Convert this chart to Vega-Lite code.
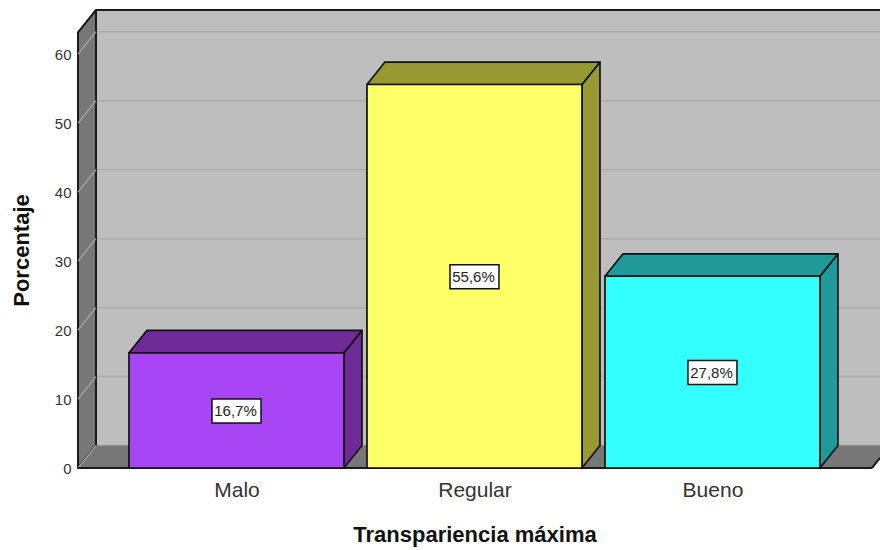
{"$schema":"https://vega.github.io/schema/vega-lite/v6.json","width":802,"height":458,"autosize":{"type":"none"},"padding":{"left":78,"top":10,"right":0,"bottom":82},"background":"white","config":{"view":{"stroke":null},"font":"Liberation Sans"},
"resolve":{"axis":{"x":"independent","y":"independent"}},
"params":[{"name":"x0","value":0.334},{"name":"dx","value":0.0756},{"name":"dy","value":3.25},{"name":"fr","value":63.15},{"name":"fe","value":3.67},{"name":"xend","value":3.704},{"name":"hw","value":0.4517}],
"datasets":{"bars":[{"cat":"Malo","value":16.7,"label":"16,7%"},{"cat":"Regular","value":55.6,"label":"55,6%"},{"cat":"Bueno","value":27.8,"label":"27,8%"}],"ticks":[{"t":0},{"t":10},{"t":20},{"t":30},{"t":40},{"t":50},{"t":60}],"one":[{"k":"frame"}],"two":[{"v":0},{"v":1}],"four":[{"v":0},{"v":1},{"v":2},{"v":3}]},
"layer":[
{"data":{"name":"one"},"transform":[{"calculate":"x0+dx","as":"a"},{"calculate":"xend","as":"b"},{"calculate":"dy","as":"c"},{"calculate":"fr+dy","as":"d"}],
 "mark":{"type":"rect","fill":"#BEBEBE","stroke":null},
 "encoding":{"x":{"field":"a","type":"quantitative","scale":{"domain":[0.334,3.704],"nice":false,"zero":false},"title":"Transpariencia máxima","axis":{"values":[1,2,3],"labelExpr":"datum.value==1?'Malo':datum.value==2?'Regular':'Bueno'","grid":false,"domain":false,"ticks":false,"labelFontSize":21,"labelColor":"#333","labelPadding":11,"labelFlush":false,"labelOverlap":false,"titleFontSize":22,"titleFontWeight":"bold","titleColor":"#111","titlePadding":24,"titleX":396.5}},"x2":{"field":"b"},
 "y":{"field":"c","type":"quantitative","scale":{"domain":[0,66.4],"nice":false,"zero":false},"title":"Porcentaje","axis":{"values":[0,10,20,30,40,50,60],"grid":false,"domain":false,"ticks":false,"labelFontSize":15,"labelColor":"#333","labelPadding":7,"titleFontSize":22,"titleFontWeight":"bold","titleColor":"#111","titlePadding":21,"titleY":240}},"y2":{"field":"d"}}},
{"data":{"name":"ticks"},"transform":[{"calculate":"x0+dx","as":"a"},{"calculate":"xend","as":"b"},{"calculate":"datum.t+dy","as":"c"}],
 "mark":{"type":"rule","stroke":"#ABABAB","strokeWidth":1.5},
 "encoding":{"x":{"field":"a","type":"quantitative","axis":null,"scale":{"domain":[0.334,3.704],"nice":false,"zero":false}},"x2":{"field":"b"},"y":{"field":"c","type":"quantitative","axis":null,"scale":{"domain":[0,66.4],"nice":false,"zero":false}}}},
{"data":{"name":"two"},"transform":[{"calculate":"datum.v==0?x0:x0+dx","as":"x"},{"calculate":"datum.v==0?fr:fr+dy","as":"yt"},{"calculate":"datum.v==0?0:dy","as":"yb"}],
 "mark":{"type":"area","fill":"#777777","stroke":"#1a1a1a","strokeWidth":2,"strokeJoin":"round"},
 "encoding":{"x":{"field":"x","type":"quantitative","axis":null,"scale":{"domain":[0.334,3.704],"nice":false,"zero":false}},"y":{"field":"yt","type":"quantitative","axis":null,"scale":{"domain":[0,66.4],"nice":false,"zero":false}},"y2":{"field":"yb"}}},
{"data":{"name":"four"},"transform":[{"calculate":"datum.v==0?x0:datum.v==1?x0+dx:datum.v==2?fe:fe+dx","as":"x"},{"calculate":"datum.v==0?0:dy","as":"yt"},{"calculate":"datum.v==3?dy:0","as":"yb"}],
 "mark":{"type":"area","fill":"#777777","clip":true},
 "encoding":{"x":{"field":"x","type":"quantitative","axis":null,"scale":{"domain":[0.334,3.704],"nice":false,"zero":false}},"y":{"field":"yt","type":"quantitative","axis":null,"scale":{"domain":[0,66.4],"nice":false,"zero":false}},"y2":{"field":"yb"}}},
{"data":{"name":"ticks"},"transform":[{"calculate":"x0","as":"a"},{"calculate":"x0+dx","as":"b"},{"calculate":"datum.t+dy","as":"c"}],
 "mark":{"type":"rule","stroke":"#A8A8A8","strokeWidth":1.2},
 "encoding":{"x":{"field":"a","type":"quantitative","axis":null,"scale":{"domain":[0.334,3.704],"nice":false,"zero":false}},"x2":{"field":"b"},"y":{"field":"t","type":"quantitative","axis":null,"scale":{"domain":[0,66.4],"nice":false,"zero":false}},"y2":{"field":"c"}}},
{"data":{"name":"one"},"transform":[{"calculate":"x0+dx","as":"a"},{"calculate":"xend","as":"b"},{"calculate":"fr+dy","as":"c"}],
 "mark":{"type":"rule","stroke":"#1a1a1a","strokeWidth":2},
 "encoding":{"x":{"field":"a","type":"quantitative","axis":null,"scale":{"domain":[0.334,3.704],"nice":false,"zero":false}},"x2":{"field":"b"},"y":{"field":"c","type":"quantitative","axis":null,"scale":{"domain":[0,66.4],"nice":false,"zero":false}}}},
{"data":{"name":"one"},"transform":[{"calculate":"x0","as":"a"},{"calculate":"fe","as":"b"},{"calculate":"0","as":"c"}],
 "mark":{"type":"rule","stroke":"#1a1a1a","strokeWidth":2},
 "encoding":{"x":{"field":"a","type":"quantitative","axis":null,"scale":{"domain":[0.334,3.704],"nice":false,"zero":false}},"x2":{"field":"b"},"y":{"field":"c","type":"quantitative","axis":null,"scale":{"domain":[0,66.4],"nice":false,"zero":false}}}},
{"data":{"name":"one"},"transform":[{"calculate":"fe","as":"a"},{"calculate":"xend","as":"b"},{"calculate":"0","as":"c"},{"calculate":"dy*(xend-fe)/dx","as":"d"}],
 "mark":{"type":"rule","stroke":"#1a1a1a","strokeWidth":2},
 "encoding":{"x":{"field":"a","type":"quantitative","axis":null,"scale":{"domain":[0.334,3.704],"nice":false,"zero":false}},"x2":{"field":"b"},"y":{"field":"c","type":"quantitative","axis":null,"scale":{"domain":[0,66.4],"nice":false,"zero":false}},"y2":{"field":"d"}}},
{"data":{"name":"bars"},"transform":[{"calculate":"indexof(['Malo','Regular','Bueno'],datum.cat)+1","as":"pos"},{"calculate":"datum.pos-hw","as":"l"},{"calculate":"datum.pos+hw","as":"r"},{"calculate":"{'Malo':'#6E2A96','Regular':'#999933','Bueno':'#1F9999'}[datum.cat]","as":"shade"},{"calculate":"{'Malo':'#A846F5','Regular':'#FFFF66','Bueno':'#33FFFF'}[datum.cat]","as":"face"}],
 "resolve":{"axis":{"x":"independent","y":"independent"}},
 "layer":[
 {"transform":[{"calculate":"[0,1]","as":"v"},{"flatten":["v"]},{"calculate":"datum.v==0?datum.r:datum.r+dx","as":"x"},{"calculate":"datum.v==0?datum.value:datum.value+dy","as":"yt"},{"calculate":"datum.v==0?0:dy","as":"yb"}],
  "mark":{"type":"area","stroke":"#111","strokeWidth":1.7,"strokeJoin":"round"},
  "encoding":{"detail":{"field":"cat"},"fill":{"field":"shade","type":"nominal","scale":null},"x":{"field":"x","type":"quantitative","axis":null,"scale":{"domain":[0.334,3.704],"nice":false,"zero":false}},"y":{"field":"yt","type":"quantitative","axis":null,"scale":{"domain":[0,66.4],"nice":false,"zero":false}},"y2":{"field":"yb"}}},
 {"transform":[{"calculate":"[0,1,2,3]","as":"v"},{"flatten":["v"]},{"calculate":"datum.v==0?datum.l:datum.v==1?datum.l+dx:datum.v==2?datum.r:datum.r+dx","as":"x"},{"calculate":"datum.v==0?datum.value:datum.value+dy","as":"yt"},{"calculate":"datum.v==3?datum.value+dy:datum.value","as":"yb"}],
  "mark":{"type":"area","stroke":"#111","strokeWidth":1.7,"strokeJoin":"round"},
  "encoding":{"detail":{"field":"cat"},"fill":{"field":"shade","type":"nominal","scale":null},"x":{"field":"x","type":"quantitative","axis":null,"scale":{"domain":[0.334,3.704],"nice":false,"zero":false}},"y":{"field":"yt","type":"quantitative","axis":null,"scale":{"domain":[0,66.4],"nice":false,"zero":false}},"y2":{"field":"yb"}}},
 {"mark":{"type":"rect","stroke":"#111","strokeWidth":1.7},
  "encoding":{"fill":{"field":"face","type":"nominal","scale":null},"x":{"field":"l","type":"quantitative","axis":null,"scale":{"domain":[0.334,3.704],"nice":false,"zero":false}},"x2":{"field":"r"},"y":{"field":"value","type":"quantitative","axis":null,"scale":{"domain":[0,66.4],"nice":false,"zero":false}},"y2":{"datum":0}}},
 {"transform":[{"calculate":"datum.value/2","as":"mid"}],"mark":{"type":"rect","fill":"white","stroke":"#111","strokeWidth":1.5,"width":49,"height":24,"yOffset":0.5},
  "encoding":{"x":{"field":"pos","type":"quantitative","axis":null,"scale":{"domain":[0.334,3.704],"nice":false,"zero":false}},"y":{"field":"mid","type":"quantitative","axis":null,"scale":{"domain":[0,66.4],"nice":false,"zero":false}}}},
 {"transform":[{"calculate":"datum.value/2","as":"mid"}],"mark":{"type":"text","fontSize":15,"color":"#222","align":"center","baseline":"middle","dy":1,"dx":-1},
  "encoding":{"text":{"field":"label"},"x":{"field":"pos","type":"quantitative","axis":null,"scale":{"domain":[0.334,3.704],"nice":false,"zero":false}},"y":{"field":"mid","type":"quantitative","axis":null,"scale":{"domain":[0,66.4],"nice":false,"zero":false}}}}
 ]}
]}
